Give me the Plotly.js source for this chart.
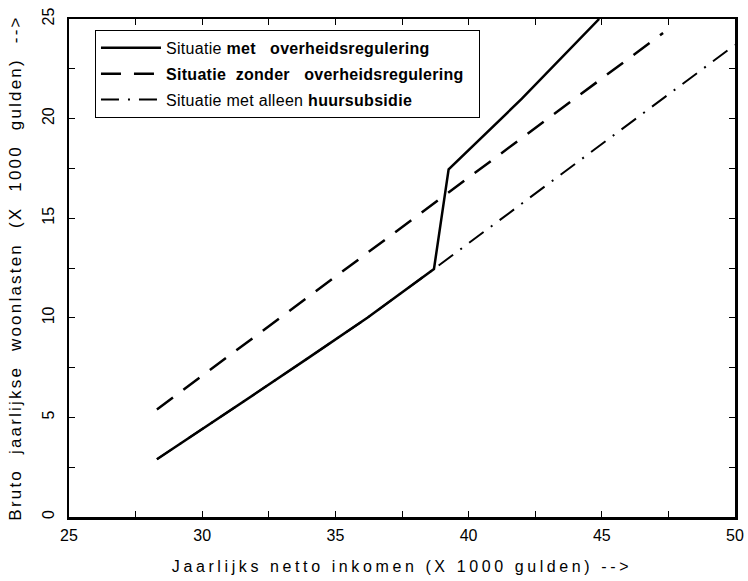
<!DOCTYPE html>
<html>
<head>
<meta charset="utf-8">
<script src="https://cdn.plot.ly/plotly-3.0.1.min.js"></script>
<style>
html,body{margin:0;padding:0;background:#fff;}
#chart{width:748px;height:581px;}
.xtitle{letter-spacing:3.6px;}
.ytitle{letter-spacing:2.2px;word-spacing:8px;}
.legendtext{letter-spacing:0.3px;}
</style>
</head>
<body>
<div id="chart"></div>
<script>
// Series: gross annual housing costs vs net annual income (x 1000 gulden)
const metRegX = [28.3, 30, 32, 34, 36.2, 38.7, 39.25, 42, 44.9];
const metRegY = [2.9, 4.4, 6.2, 8.0, 10.0, 12.45, 17.45, 21.0, 25.0];

const zonderRegX = [28.3, 47.3];
const zonderRegY = [5.4, 24.3];

const huursubsidieX = [28.3, 30, 32, 34, 36.2, 38.7, 50];
const huursubsidieY = [2.9, 4.4, 6.2, 8.0, 10.0, 12.45, 23.7];

const seriesNames = [
  "Situatie <b>met   overheidsregulering</b>",
  "<b>Situatie  zonder   overheidsregulering</b>&nbsp;&nbsp;",
  "Situatie met alleen <b>huursubsidie</b>"
];

const xTickVals = [25, 30, 35, 40, 45, 50];
const yTickVals = [0, 5, 10, 15, 20, 25];

const traces = [
  {x: metRegX, y: metRegY, name: seriesNames[0], legendgroup: 'g1', mode: 'lines',
   line: {color: '#000', width: 2.5, dash: 'solid'}},
  {x: zonderRegX, y: zonderRegY, name: seriesNames[1], legendgroup: 'g2', mode: 'lines',
   line: {color: '#000', width: 2.5, dash: '20px,13px'}},
  {x: huursubsidieX, y: huursubsidieY, name: seriesNames[2], legendgroup: 'g3', mode: 'lines',
   line: {color: '#000', width: 2, dash: '18px,9px,2px,9px'}}
];

const tickFont = {family: 'Liberation Sans, Arial, sans-serif', size: 16, color: '#000'};

const layout = {
  width: 748, height: 581,
  margin: {l: 69, r: 13, t: 19, b: 64},
  paper_bgcolor: '#fff', plot_bgcolor: '#fff',
  showlegend: true,
  legend: {
    x: 0.039, y: 0.978, xanchor: 'left', yanchor: 'top',
    bgcolor: '#fff', bordercolor: '#000', borderwidth: 1,
    font: {family: 'Liberation Sans, Arial, sans-serif', size: 16, color: '#000'},
    itemwidth: 60,
    tracegroupgap: 2
  },
  xaxis: {
    range: [25, 50], tickvals: xTickVals, ticktext: xTickVals.map(String),
    ticks: 'inside', ticklen: 6, tickwidth: 1, tickcolor: '#000',
    ticklabelstandoff: 2,
    minor: {dtick: 2.5, ticks: 'inside', ticklen: 6, tickwidth: 1, tickcolor: '#000', showgrid: false},
    showline: true, linewidth: 2.5, linecolor: '#000', mirror: 'allticks',
    showgrid: false, zeroline: false,
    tickfont: tickFont,
    title: {text: 'Jaarlijks netto inkomen (X 1000 gulden) -->', standoff: 18,
            font: {family: 'Liberation Sans, Arial, sans-serif', size: 16, color: '#000'}}
  },
  yaxis: {
    range: [0, 25], tickvals: yTickVals, ticktext: yTickVals.map(String),
    tickangle: -90,
    ticks: 'inside', ticklen: 6, tickwidth: 1, tickcolor: '#000',
    ticklabelstandoff: 6,
    minor: {dtick: 2.5, ticks: 'inside', ticklen: 6, tickwidth: 1, tickcolor: '#000', showgrid: false},
    showline: true, linewidth: 2.5, linecolor: '#000', mirror: 'allticks',
    showgrid: false, zeroline: false,
    tickfont: tickFont,
    title: {text: 'Bruto jaarlijkse woonlasten (X 1000 gulden) -->', standoff: 14,
            font: {family: 'Liberation Sans, Arial, sans-serif', size: 17, color: '#000'}}
  }
};

Plotly.newPlot('chart', traces, layout, {displayModeBar: false, staticPlot: true});
</script>
</body>
</html>
